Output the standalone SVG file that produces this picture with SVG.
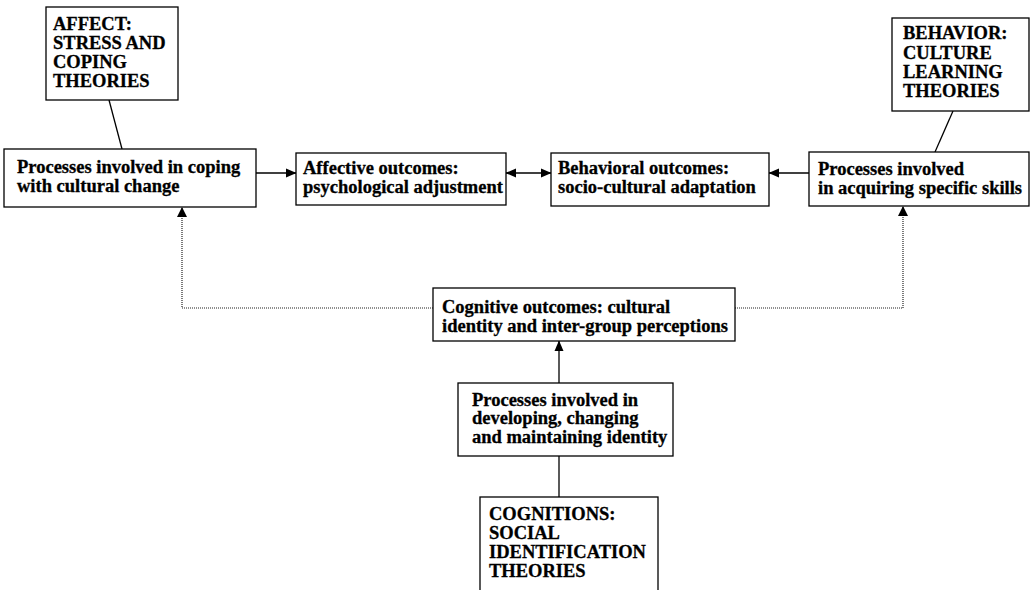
<svg xmlns="http://www.w3.org/2000/svg" width="1032" height="590" viewBox="0 0 1032 590">
<style>
.box{fill:#fff;stroke:#000;stroke-width:1.3}
.t{font-family:"Liberation Serif","Times New Roman",serif;font-weight:bold;font-size:18.5px;fill:#000;stroke:#000;stroke-width:0.3}
.ln{fill:none;stroke:#000;stroke-width:1.3}
.dot{fill:none;stroke:#222;stroke-width:1.2;stroke-dasharray:1 1}
</style>
<defs>
<marker id="ah" markerUnits="userSpaceOnUse" markerWidth="11" markerHeight="10" refX="10" refY="5" orient="auto-start-reverse" viewBox="0 0 11 10">
<path d="M0,0.5 L10.5,5 L0,9.5 Z" fill="#000"/>
</marker>
</defs>
<rect width="1032" height="590" fill="#fff"/>
<g id="connectors">
<line class="ln" x1="109" y1="100" x2="122" y2="149"/>
<line class="ln" x1="953" y1="111" x2="935" y2="152"/>
<line class="ln" x1="256" y1="173" x2="296" y2="173" marker-end="url(#ah)"/>
<line class="ln" x1="506" y1="173" x2="551" y2="173" marker-start="url(#ah)" marker-end="url(#ah)"/>
<line class="ln" x1="809" y1="173" x2="769" y2="173" marker-end="url(#ah)"/>
<polyline class="dot" points="433,308 182,308 182,208"/>
<path d="M177,217 L182,207 L187,217 Z" fill="#000"/>
<polyline class="dot" points="735,308 903,308 903,207"/>
<path d="M898,216 L903,206 L908,216 Z" fill="#000"/>
<line class="ln" x1="559" y1="383" x2="559" y2="341" marker-end="url(#ah)"/>
<line class="ln" x1="559" y1="456" x2="559" y2="497"/>
</g>
<g id="affect">
<rect class="box" x="46" y="7" width="132" height="93"/>
<text class="t" x="53" y="30">AFFECT:</text>
<text class="t" x="53" y="49">STRESS AND</text>
<text class="t" x="53" y="68">COPING</text>
<text class="t" x="53" y="87">THEORIES</text>
</g>
<g id="behavior">
<rect class="box" x="892" y="18" width="137" height="93"/>
<text class="t" x="903" y="39">BEHAVIOR:</text>
<text class="t" x="903" y="59">CULTURE</text>
<text class="t" x="903" y="78">LEARNING</text>
<text class="t" x="903" y="97">THEORIES</text>
</g>
<g id="coping">
<rect class="box" x="4" y="149" width="252" height="58"/>
<text class="t" x="17" y="173">Processes involved in coping</text>
<text class="t" x="17" y="192">with cultural change</text>
</g>
<g id="affective">
<rect class="box" x="296" y="153" width="210" height="52"/>
<text class="t" x="303" y="174">Affective outcomes:</text>
<text class="t" x="303" y="193">psychological adjustment</text>
</g>
<g id="behavioral">
<rect class="box" x="551" y="153" width="218" height="53"/>
<text class="t" x="558" y="174">Behavioral outcomes:</text>
<text class="t" x="558" y="193">socio-cultural adaptation</text>
</g>
<g id="skills">
<rect class="box" x="809" y="152" width="220" height="54"/>
<text class="t" x="818" y="175">Processes involved</text>
<text class="t" x="818" y="194">in acquiring specific skills</text>
</g>
<g id="cognitive">
<rect class="box" x="433" y="288" width="302" height="53"/>
<text class="t" x="442" y="313">Cognitive outcomes: cultural</text>
<text class="t" x="442" y="332">identity and inter-group perceptions</text>
</g>
<g id="identity">
<rect class="box" x="458" y="383" width="215" height="73"/>
<text class="t" x="472" y="406">Processes involved in</text>
<text class="t" x="472" y="424">developing, changing</text>
<text class="t" x="472" y="443">and maintaining identity</text>
</g>
<g id="cognitions">
<rect class="box" x="480" y="497" width="178" height="110"/>
<text class="t" x="489" y="520">COGNITIONS:</text>
<text class="t" x="489" y="539">SOCIAL</text>
<text class="t" x="489" y="558">IDENTIFICATION</text>
<text class="t" x="489" y="577">THEORIES</text>
</g>
</svg>
